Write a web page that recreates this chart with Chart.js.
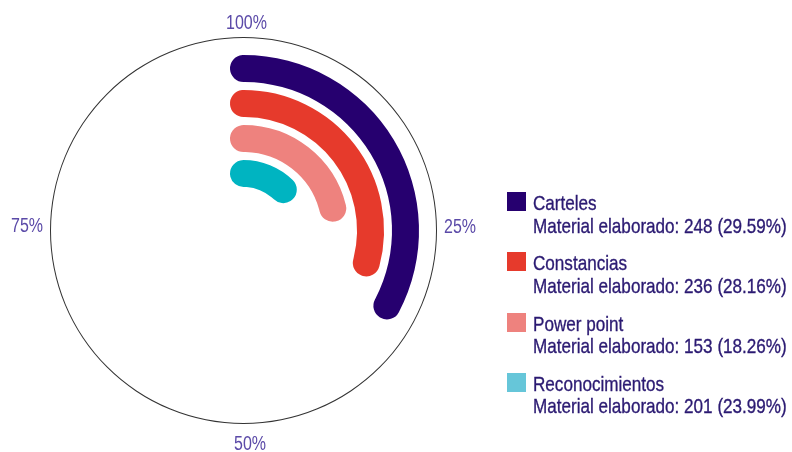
<!DOCTYPE html>
<html>
<head>
<meta charset="utf-8">
<script src="https://cdn.jsdelivr.net/npm/chart.js@4/dist/chart.umd.min.js"></script>
<style>
  html, body { margin: 0; padding: 0; background: #ffffff; }
  #wrap { position: relative; width: 792px; height: 452px; overflow: hidden; }
  #chart { position: absolute; left: 0; top: 0; }
  #legend {
    position: absolute; left: 507px; top: 192px;
    display: flex; flex-direction: column; gap: 15.1px;
    font-family: 'Liberation Sans', Arial, sans-serif;
    font-size: 21px; line-height: 22.6px; color: #2b1a72;
    -webkit-text-stroke: 0.35px #2b1a72;
  }
  .item { position: relative; padding-left: 26px; white-space: nowrap; height: 45.2px; }
  .box { position: absolute; left: 0; top: 0; width: 19px; height: 19px; }
  .txt { display: inline-block; transform-origin: left top; }
</style>
</head>
<body>
<div id="wrap">
  <canvas id="chart" width="792" height="452"></canvas>
  <div id="legend"></div>
</div>
<script>
const categories = ['Carteles', 'Constancias', 'Power point', 'Reconocimientos'];
const counts = [248, 236, 153, 201];
const shares = [29.59, 28.16, 18.26, 23.99];
// how far round the circle each bar reaches (percent)
const arcValues = [32.7, 29.1, 21.1, 12.3];
const axisLabels = ['100%', '25%', '50%', '75%'];

const barColors = ['#26006f', '#e63a2c', '#ee827e', '#00b4c1'];
const legendColors = ['#26006f', '#e63a2c', '#ee827e', '#66c6d9'];

// ring layout (px): outline, gap, then bar / spacer rings
const radius = 193.5;
const outlineW = 1, outerGap = 17, barW = 27, barGap = 8;
const cutoutPx = radius - outlineW - outerGap - 4 * barW - 3 * barGap;
const clear = 'rgba(0,0,0,0)';

const datasets = [
  { data: [100], backgroundColor: ['#333333'], weight: outlineW },
  { data: [100], backgroundColor: [clear], weight: outerGap }
];
arcValues.forEach((v, i) => {
  // round caps stick out past both ends, like the original radial bars
  const rMid = radius - outlineW - outerGap - i * (barW + barGap) - barW / 2;
  const capPct = (barW / 2) / rMid / (2 * Math.PI) * 100;
  const shown = v + 2 * capPct;
  datasets.push({
    label: categories[i],
    data: [shown, 100 - shown],
    backgroundColor: [barColors[i], clear],
    borderRadius: barW / 2,
    rotation: -capPct * 3.6,
    weight: barW
  });
  if (i < arcValues.length - 1) {
    datasets.push({ data: [100], backgroundColor: [clear], weight: barGap });
  }
});

// narrow text, the original uses a condensed face
function narrowText(ctx, text, x, y, align) {
  const squeeze = 0.8;
  const w = ctx.measureText(text).width * squeeze;
  let left = x;
  if (align === 'center') left = x - w / 2;
  if (align === 'right') left = x - w;
  ctx.save();
  ctx.translate(left, y);
  ctx.scale(squeeze, 1);
  ctx.textAlign = 'left';
  ctx.fillText(text, 0, 0);
  ctx.restore();
}

const axisLabelPlugin = {
  id: 'axisLabels',
  afterDraw(chart) {
    const arc = chart.getDatasetMeta(0).data[0];
    if (!arc) return;
    const cx = arc.x, cy = arc.y, r = arc.outerRadius;
    const ctx = chart.ctx;
    ctx.save();
    ctx.fillStyle = '#5b4aa8';
    ctx.font = "20px 'Liberation Sans', Arial, sans-serif";
    ctx.textBaseline = 'alphabetic';
    narrowText(ctx, axisLabels[0], cx + 3, cy - r - 8, 'center');
    narrowText(ctx, axisLabels[1], cx + r + 7, cy + 2, 'left');
    narrowText(ctx, axisLabels[2], cx + 6.5, cy + r + 26, 'center');
    narrowText(ctx, axisLabels[3], cx - r - 7, cy + 1.5, 'right');
    ctx.restore();
  }
};

new Chart(document.getElementById('chart').getContext('2d'), {
  type: 'doughnut',
  data: { labels: ['value', 'rest'], datasets: datasets },
  options: {
    responsive: false,
    animation: false,
    events: [],
    cutout: (cutoutPx / radius * 100) + '%',
    layout: { padding: { left: 50, top: 37, right: 355, bottom: 28 } },
    elements: { arc: { borderWidth: 0, offset: 0, hoverOffset: 0 } },
    plugins: {
      legend: { display: false },
      tooltip: { enabled: false }
    }
  },
  plugins: [axisLabelPlugin]
});

// legend built from the same arrays
const legendEl = document.getElementById('legend');
const spans = [];
categories.forEach((name, i) => {
  const item = document.createElement('div');
  item.className = 'item';
  item.innerHTML = '<span class="box" style="background:' + legendColors[i] + '"></span>' +
    '<span class="txt">' + name + '<br>Material elaborado: ' + counts[i] + ' (' + shares[i].toFixed(2) + '%)</span>';
  legendEl.appendChild(item);
  spans.push(item.querySelector('.txt'));
});
const squeeze = 254 / spans[0].offsetWidth;
spans.forEach(s => { s.style.transform = 'scaleX(' + squeeze + ')'; });
</script>
</body>
</html>
